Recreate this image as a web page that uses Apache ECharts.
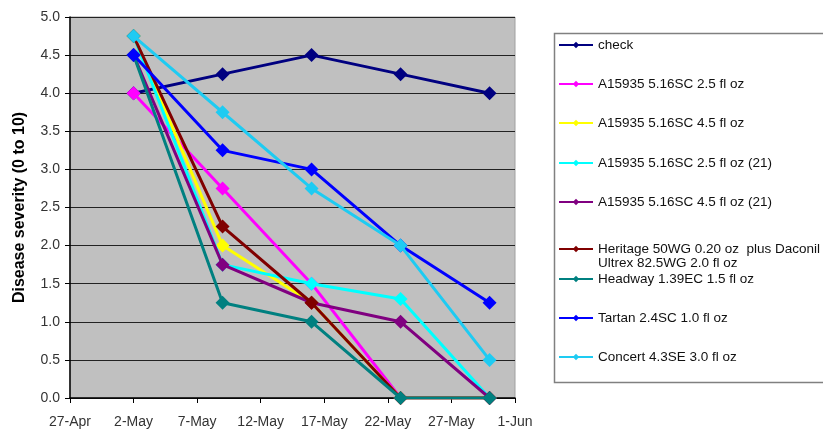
<!DOCTYPE html>
<html><head><meta charset="utf-8">
<script src="https://cdn.jsdelivr.net/npm/echarts@6/dist/echarts.min.js"></script>
<style>html,body{margin:0;padding:0;background:#fff}#c{width:823px;height:430px}</style>
</head><body><div id="c"></div>
<script>
var startDate = '2007-04-27';
var tickLabels = ['27-Apr','2-May','7-May','12-May','17-May','22-May','27-May','1-Jun'];
var sampleDates = ['2007-05-02','2007-05-09','2007-05-16','2007-05-23','2007-05-30'];
var seriesNames = [
  'check',
  'A15935 5.16SC 2.5 fl oz',
  'A15935 5.16SC 4.5 fl oz',
  'A15935 5.16SC 2.5 fl oz (21)',
  'A15935 5.16SC 4.5 fl oz (21)',
  'Heritage 50WG 0.20 oz  plus Daconil\nUltrex 82.5WG 2.0 fl oz',
  'Headway 1.39EC 1.5 fl oz',
  'Tartan 2.4SC 1.0 fl oz',
  'Concert 4.3SE 3.0 fl oz'
];
var check      = [4.0, 4.25, 4.5, 4.25, 4.0];
var a25        = [4.0, 2.75, 1.5, 0, 0];
var a45        = [4.75, 2.0, 1.25, 0, 0];
var a25_21     = [4.75, 1.75, 1.5, 1.3, 0];
var a45_21     = [4.5, 1.75, 1.25, 1.0, 0];
var heritage   = [4.75, 2.25, 1.25, 0, 0];
var headway    = [4.5, 1.25, 1.0, 0, 0];
var tartan     = [4.5, 3.25, 3.0, 2.0, 1.25];
var concert    = [4.75, 3.75, 2.75, 2.0, 0.5];
var allValues = [check, a25, a45, a25_21, a45_21, heritage, headway, tartan, concert];
var colors = ['#000080','#ff00ff','#ffff00','#00ffff','#800080','#800000','#008080','#0000ff','#1ecbf2'];

var dayMs = 86400000;
var xDays = sampleDates.map(function(d){ return (Date.parse(d) - Date.parse(startDate)) / dayMs; });
var FONT = 'Liberation Sans, Arial, sans-serif';

var series = seriesNames.map(function(n, i){
  return {
    name: n, type: 'line',
    data: allValues[i].map(function(v, j){ return [xDays[j], v]; }),
    symbol: 'diamond', symbolSize: 14, showSymbol: true,
    lineStyle: {color: colors[i], width: 3},
    itemStyle: {color: colors[i]},
    z: 2 + i
  };
});

var legendTops = [33, 72, 111, 151, 190, 237, 267, 306, 345];
var legends = seriesNames.map(function(n, i){
  return {
    data: [n], orient: 'vertical', left: 558, top: legendTops[i], padding: [5,0,5,0],
    itemWidth: 34, itemHeight: 8, selectedMode: false,
    formatter: function(name){ return name.split('\n')[0]; },
    textStyle: {fontFamily: FONT, fontSize: 13.5, color: '#111'},
    itemGap: 0
  };
});

var chart = echarts.init(document.getElementById('c'));
chart.setOption({
  animation: false,
  backgroundColor: '#fff',
  color: colors,
  grid: {left: 70, top: 17, right: 308, bottom: 32, show: true, backgroundColor: '#c0c0c0', borderColor: '#a0a0a0', borderWidth: 1},
  xAxis: {
    type: 'value', min: 0, max: 35, interval: 5,
    axisLine: {show: true, onZero: false, lineStyle: {color: '#000', width: 1.5}},
    axisTick: {show: true, inside: false, length: 5, lineStyle: {color: '#000'}},
    splitLine: {show: false},
    axisLabel: {color: '#333', fontSize: 14, fontFamily: FONT, margin: 17,
      formatter: function(v){ return tickLabels[Math.round(v/5)]; }}
  },
  yAxis: {
    type: 'value', min: 0, max: 5, interval: 0.5,
    name: 'Disease severity (0 to 10)', nameLocation: 'middle', nameGap: 42,
    nameTextStyle: {fontSize: 16, fontWeight: 'bold', color: '#000', fontFamily: FONT},
    axisLine: {show: true, lineStyle: {color: '#000', width: 1.5}},
    axisTick: {show: true, length: 5, lineStyle: {color: '#000'}},
    splitLine: {show: true, lineStyle: {color: '#222', width: 1.2}},
    axisLabel: {color: '#333', fontSize: 14, fontFamily: FONT, margin: 10,
      formatter: function(v){ return v.toFixed(1); }}
  },
  legend: legends,
  graphic: [
    {type: 'rect', shape: {x: 554.5, y: 33.5, width: 280, height: 349}, style: {fill: 'none', stroke: '#808080', lineWidth: 1.5}, z: -1},
    {type: 'text', left: 598, top: 256, style: {text: seriesNames[5].split('\n')[1], font: '13.5px ' + FONT, fill: '#111'}}
  ],
  series: series
});
</script></body></html>
